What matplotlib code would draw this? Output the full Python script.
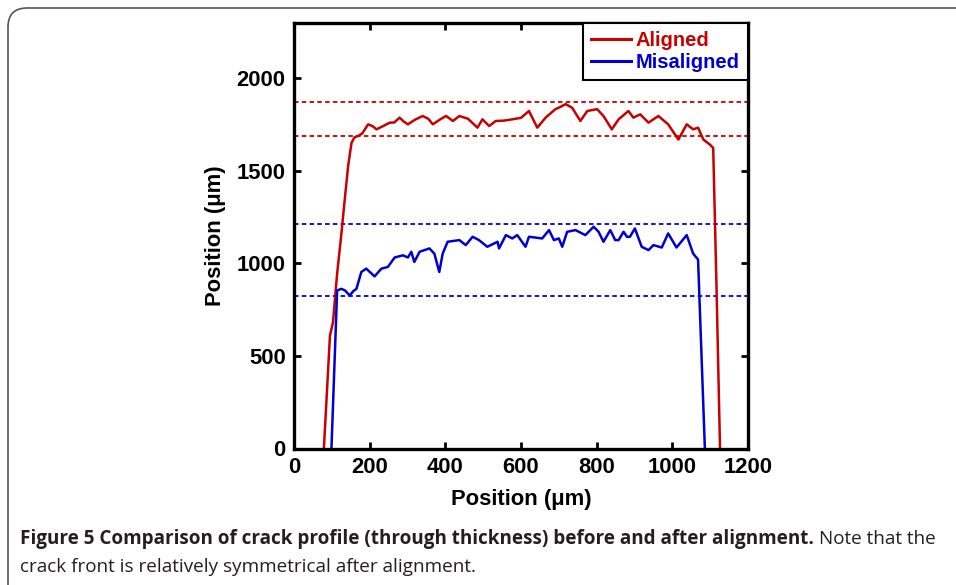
import numpy as np
import matplotlib.pyplot as plt
from matplotlib.patches import FancyBboxPatch

# crack profile, aligned specimen (x, y in um)
aligned_x = [79, 95, 103, 114, 124, 134, 143, 152, 160, 169, 180, 196, 208, 218, 235, 253, 265, 279, 290, 301,
             320, 340, 355, 367, 385, 402, 420, 437, 460, 485, 498, 516, 533, 555, 577, 600, 621, 643, 665, 691,
             705, 718, 735, 757, 775, 801, 818, 840, 858, 884, 897, 915, 937, 963, 989, 1016, 1038, 1055, 1068,
             1082, 1099, 1108, 1117, 1126]
aligned_y = [0, 609, 681, 944, 1134, 1342, 1523, 1650, 1680, 1687, 1700, 1750, 1740, 1723, 1740, 1759, 1760, 1786,
             1765, 1750, 1775, 1795, 1780, 1750, 1775, 1795, 1768, 1795, 1780, 1732, 1777, 1741, 1768, 1770, 1777,
             1785, 1822, 1732, 1786, 1832, 1845, 1859, 1840, 1768, 1822, 1832, 1795, 1723, 1777, 1822, 1786, 1804,
             1759, 1795, 1750, 1668, 1750, 1723, 1732, 1668, 1641, 1623, 853, 0]

# crack profile, misaligned specimen
mis_x = [99, 114, 125, 135, 147, 157, 165, 178, 191, 213, 231, 248, 266, 288, 301, 310, 318, 332, 358, 371,
         384, 393, 406, 437, 454, 472, 489, 511, 538, 542, 560, 577, 590, 612, 621, 656, 674, 687, 700, 709,
         722, 744, 770, 792, 805, 818, 836, 849, 858, 871, 880, 888, 901, 919, 937, 950, 972, 989, 1011, 1038,
         1055, 1068, 1086]
mis_y = [0, 853, 862, 853, 826, 850, 862, 953, 971, 929, 971, 980, 1031, 1043, 1031, 1062, 1007, 1062, 1080, 1052,
         953, 1052, 1116, 1125, 1098, 1143, 1125, 1089, 1116, 1080, 1152, 1134, 1152, 1089, 1143, 1134, 1179, 1125,
         1134, 1089, 1170, 1179, 1152, 1197, 1170, 1116, 1179, 1125, 1125, 1170, 1143, 1143, 1188, 1089, 1071, 1098,
         1085, 1161, 1085, 1152, 1052, 1020, 0]

# max / min guide lines
aligned_bounds = [1871, 1687]
mis_bounds = [1211, 823]

xticks = [0, 200, 400, 600, 800, 1000, 1200]
yticks = [0, 500, 1000, 1500, 2000]

red = "#c80000"
blue = "#0000d2"
fnt = "Liberation Sans"

fig = plt.figure(figsize=(9.56, 5.85), dpi=100)

# rounded frame round the figure
W, H = 956, 585
frame = FancyBboxPatch((8 / W, -20 / H), 1.2, (585 + 20 - 8) / H, boxstyle="round,pad=0,rounding_size=0.02",
                       transform=fig.transFigure, fill=False, ec="#555555", lw=1.2, mutation_aspect=W / H)
fig.patches.append(frame)

ax = fig.add_axes([294 / W, 1 - 448.5 / H, 454 / W, (448.5 - 23) / H])
for yb in aligned_bounds:
    ax.axhline(yb, color=red, lw=1.3, ls=(0, (2.5, 1.8)))
for yb in mis_bounds:
    ax.axhline(yb, color=blue, lw=1.3, ls=(0, (2.5, 1.8)))
ax.plot(aligned_x, aligned_y, color=red, lw=1.8, label="Aligned")
ax.plot(mis_x, mis_y, color=blue, lw=1.8, label="Misaligned")

ax.set_xlim(0, 1200)
ax.set_ylim(0, 2297)
ax.set_xticks(xticks)
ax.set_yticks(yticks)
ax.tick_params(direction="in", length=5, width=2, top=True, right=True, pad=6)
for lab in ax.get_xticklabels() + ax.get_yticklabels():
    lab.set_fontfamily(fnt)
    lab.set_fontweight("bold")
    lab.set_fontsize(15.8)
for s in ax.spines.values():
    s.set_linewidth(2.4)
ax.set_xlabel("Position (\u03bcm)", fontfamily=fnt, fontweight="bold", fontsize=15.8, labelpad=8)
ax.set_ylabel("Position (\u03bcm)", fontfamily=fnt, fontweight="bold", fontsize=15.8, labelpad=8)

leg = ax.legend(loc="upper right", borderaxespad=0, frameon=True, fancybox=False, framealpha=1,
                handlelength=2.0, handletextpad=0.25, borderpad=0.4, labelspacing=0.15,
                prop={"family": fnt, "weight": "bold", "size": 14.5})
leg.get_frame().set_edgecolor("black")
leg.get_frame().set_linewidth(1.5)
for t, c in zip(leg.get_texts(), [red, blue]):
    t.set_color(c)
for h in leg.legend_handles:
    h.set_linewidth(2.2)

# caption
cap_font = "Open Sans"
cap_size = 13.6
t1 = fig.text(20 / W, 1 - 539 / H, "Figure 5 Comparison of crack profile (through thickness) before and after alignment.",
              fontfamily=cap_font, fontweight="bold", fontsize=cap_size, va="center", color="#231f20")
fig.canvas.draw()
bb = t1.get_window_extent()
fig.text(bb.x1 / W + 5 / W, 1 - 539 / H, "Note that the", fontfamily=cap_font, fontsize=cap_size, va="center",
         color="#231f20")
fig.text(20 / W, 1 - 567 / H, "crack front is relatively symmetrical after alignment.", fontfamily=cap_font,
         fontsize=cap_size, va="center", color="#231f20")

fig.savefig("out.png", dpi=100)
